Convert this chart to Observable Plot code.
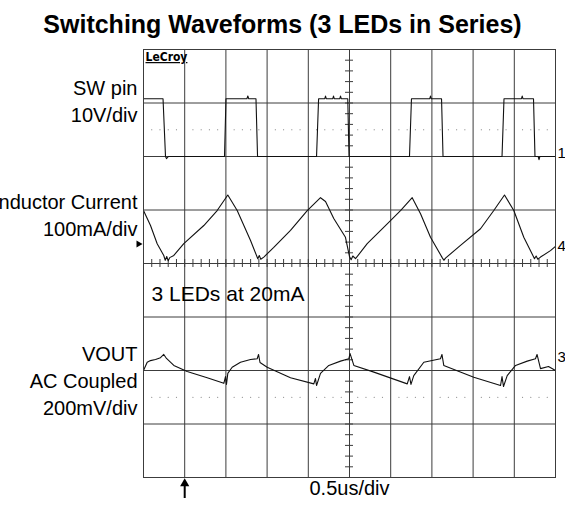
<!DOCTYPE html>
<html><head><meta charset="utf-8">
<script src="https://cdn.jsdelivr.net/npm/d3@7"></script>
<script src="https://cdn.jsdelivr.net/npm/@observablehq/plot@0.6"></script>
<style>
body{margin:0;background:#fff;font-family:"Liberation Sans",Arial,sans-serif;}
#title{height:44px;width:565px;text-align:center;font-weight:bold;font-size:25px;line-height:48px;overflow:visible;white-space:nowrap;}
#chart svg{display:block;}
</style></head><body>
<div id="title">Switching Waveforms (3 LEDs in Series)</div>
<div id="chart"></div>
<script>
// Time base: 0.5 us/div, 10 divisions
const timeDomain = [0, 5];           // us
const divDomain = [-4, 4];           // vertical divisions

// Channel 1: SW pin (V)
const swTime  = [0, 0.237, 0.267, 0.279, 0.303, 0.983, 1.001, 1.255, 1.266, 1.277, 1.365, 1.384, 2.1, 2.125, 2.2, 2.209, 2.218, 2.297, 2.306, 2.315, 2.382, 2.391, 2.4, 2.479, 2.494, 3.228, 3.252, 3.474, 3.483, 3.492, 3.617, 3.635, 4.351, 4.375, 4.587, 4.596, 4.605, 4.733, 4.751, 4.79, 4.8, 4.81, 5.0];
const swVolts = [10.8, 10.8, 0, -0.4, 0, 0, 10.8, 10.8, 11.3, 10.8, 10.8, 0, 0, 10.8, 10.8, 11.3, 10.8, 10.8, 11.3, 10.8, 10.8, 11.3, 10.8, 10.8, 0, 0, 10.8, 10.8, 11.3, 10.8, 10.8, 0, 0, 10.8, 10.8, 11.3, 10.8, 10.8, 0, 0, -0.6, 0, 0];

// Channel 4: inductor current (mA)
const ilTime = [0, 0.085, 0.166, 0.246, 0.264, 0.282, 0.3, 0.318, 0.368, 0.489, 0.732, 0.894, 1.023, 1.137, 1.299, 1.387, 1.405, 1.423, 1.46, 1.581, 1.784, 1.987, 2.148, 2.209, 2.309, 2.451, 2.5, 2.52, 2.54, 2.573, 2.715, 2.958, 3.119, 3.261, 3.362, 3.483, 3.625, 3.645, 3.665, 3.847, 4.09, 4.251, 4.381, 4.494, 4.615, 4.745, 4.765, 4.785, 4.818, 4.939, 5.0];
const ilMilliamps = [66, 38, 4, -18, -27, -20, -28, -22, -18, 4, 38, 66, 95, 66, 10, -24, -18, -25, -21, -3, 29, 66, 90, 83, 51, 16, -20, -26, -19, -24, 4, 41, 66, 90, 60, 16, -22, -27, -23, 1, 32, 66, 95, 66, 16, -24, -19, -25, -21, -9, -1];

// Channel 3: VOUT, AC coupled (mV)
const voTime = [0, 0.045, 0.085, 0.146, 0.206, 0.246, 0.279, 0.368, 0.53, 0.773, 0.975, 0.995, 1.007, 1.023, 1.076, 1.177, 1.299, 1.38, 1.396, 1.414, 1.501, 1.784, 2.067, 2.087, 2.1, 2.148, 2.249, 2.391, 2.492, 2.507, 2.553, 2.796, 3.201, 3.228, 3.246, 3.28, 3.402, 3.604, 3.622, 3.644, 4.008, 4.333, 4.351, 4.369, 4.414, 4.515, 4.657, 4.757, 4.776, 4.818, 4.915, 5.0];
const voMillivolts = [-50, -19, -13, -9, -2, 10, -5, -31, -54, -77, -98, -73, -102, -61, -38, -19, -9, -6, 10, -20, -38, -77, -100, -80, -106, -61, -31, -15, -6, 13, -31, -56, -100, -73, -102, -69, -19, -6, 10, -31, -75, -106, -73, -110, -69, -31, -15, -6, 10, -43, -35, -50];

// Channel settings
const channelIds = ["1", "4", "3"];
const channelLabels = ["SW pin\n10V/div", "Inductor Current\n100mA/div", "VOUT\nAC Coupled\n200mV/div"];
const channelPerDiv = [10, 100, 200];
const channelGround = [2, 0.33, -1.75];   // ground marker, divisions
const triggerTime = 0.5;                  // us
const triggerLevel = 0.364;               // divisions
const timeLabel = "0.5us/div";
const noteLabel = "3 LEDs at 20mA";
const logoLabel = "LeCroy";

const toDiv = (k, v) => channelGround[k] + v / channelPerDiv[k];
const idx = a => d3.range(a.length);

const majorX = d3.range(0, 10.5, 1).map(d => d * 0.5);
const majorY = d3.range(-4, 4.5, 1);
const minorX = d3.range(0, 50.5, 1).map(d => d * 0.1);
const minorY = d3.range(-20, 20.5, 1).map(d => d * 0.2);
const dotX = d3.range(0, 50, 1).filter(d => d % 5 !== 0).map(d => d * 0.1);

const gridColor = "#3c3c3c";
const traceColor = "#111";

const chart = Plot.plot({
  width: 565, height: 462,
  marginLeft: 143, marginRight: 10, marginTop: 5, marginBottom: 29,
  x: {domain: timeDomain, axis: null},
  y: {domain: divDomain, axis: null},
  style: {fontFamily: '"Liberation Sans", Arial, sans-serif', background: "#fff", color: "#000"},
  marks: [
    Plot.ruleX(majorX, {stroke: gridColor, strokeWidth: 1}),
    Plot.ruleY(majorY, {stroke: gridColor, strokeWidth: 1}),
    Plot.ruleX(minorX, {x: d => d, y1: 0, y2: 0, insetTop: -4, insetBottom: -4, stroke: gridColor}),
    Plot.ruleY(minorY, {y: d => d, x1: 2.5, x2: 2.5, insetLeft: -4, insetRight: -4, stroke: gridColor}),
    Plot.dot(dotX, {x: d => d, y: 2.5, r: 0.6, fill: "#777", stroke: null}),
    Plot.dot(dotX, {x: d => d, y: -2.5, r: 0.6, fill: "#777", stroke: null}),
    Plot.line(idx(swTime), {x: i => swTime[i], y: i => toDiv(0, swVolts[i]), stroke: traceColor, strokeWidth: 1.1}),
    Plot.line(idx(ilTime), {x: i => ilTime[i], y: i => toDiv(1, ilMilliamps[i]), stroke: traceColor, strokeWidth: 1.1}),
    Plot.line(idx(voTime), {x: i => voTime[i], y: i => toDiv(2, voMillivolts[i]), stroke: traceColor, strokeWidth: 1.1}),
    Plot.frame({stroke: gridColor}),
    // channel labels on the left
    Plot.text(channelLabels, {x: 0, y: [3.05, 0.93, -2.16], textAnchor: "end", dx: -6, fontSize: 20, lineHeight: 1.35, fill: "#000"}),
    // ground markers on the right
    Plot.text([channelIds[0]], {x: timeDomain[1], y: channelGround[0], textAnchor: "start", lineAnchor: "bottom", dx: 2, dy: 1, fontSize: 15, fill: "#000"}),
    Plot.text(channelIds.slice(1), {x: timeDomain[1], y: channelGround.slice(1), textAnchor: "start", dx: 2, fontSize: 15, fill: "#000"}),
    // trigger level marker
    Plot.dot([triggerLevel], {x: 0, y: d => d, symbol: "triangle", rotate: 90, r: 2.6, dx: -5, fill: "#000", stroke: null}),
    // trigger position arrow
    Plot.ruleX([triggerTime], {y1: divDomain[0], y2: divDomain[0], insetTop: 8, insetBottom: -21, stroke: "#000", strokeWidth: 2}),
    Plot.dot([triggerTime], {x: d => d, y: divDomain[0], dy: 6, symbol: "triangle", r: 3.4, fill: "#000", stroke: null}),
    // annotations
    Plot.text([noteLabel], {x: 0, y: -0.57, textAnchor: "start", dx: 8, fontSize: 21, fill: "#000"}),
    Plot.text([timeLabel], {x: 2.5, frameAnchor: "bottom", dy: 17.5, fontSize: 20, fill: "#000"}),
    Plot.text([logoLabel], {frameAnchor: "top-left", dx: 2, dy: 3, textAnchor: "start", lineAnchor: "top", fontSize: 12, fontWeight: "bold", fontFamily: '"DejaVu Sans Condensed", "DejaVu Sans", sans-serif', fill: "#000"})
  ]
});
chart.querySelectorAll("text").forEach(t => { if (t.textContent === logoLabel) t.style.textDecoration = "underline"; });
document.getElementById("chart").appendChild(chart);
</script></body></html>
